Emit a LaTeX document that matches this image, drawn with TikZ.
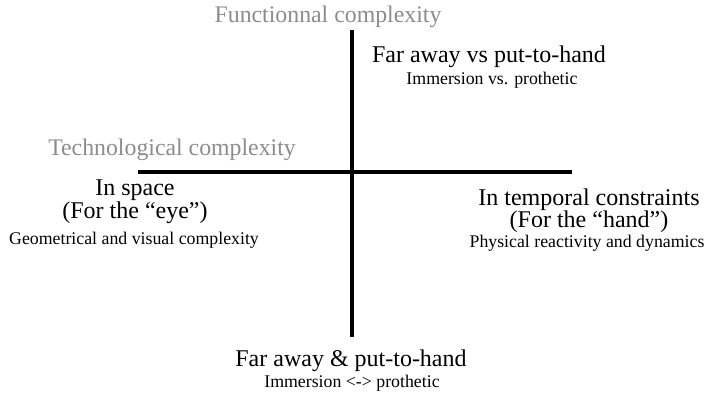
\documentclass[tikz,border=0pt]{standalone}
\usepackage{fontspec}
\setmainfont{Liberation Serif}
\begin{document}
\begin{tikzpicture}[x=1pt,y=-1pt,
  axis/.style={line width=3.5pt,black},
  big/.style={font=\fontsize{24}{26}\selectfont,inner sep=0pt,anchor=center},
  small/.style={font=\fontsize{17.8}{19}\selectfont,inner sep=0pt,anchor=center},
  grey/.style={font=\fontsize{23.8}{25}\selectfont,inner sep=0pt,anchor=center,text=black!45}]
\useasboundingbox (0,0) rectangle (704,399);
\coordinate (vt) at (352,30);
\coordinate (vb) at (352,337);
\coordinate (hl) at (138,172);
\coordinate (hr) at (572,172);
\draw[axis] (vt) -- (vb);
\draw[axis] (hl) -- (hr);
\node[grey] (fc) at (328,17) {Functionnal complexity};
\node[grey] (tc) at (172,150) {Technological complexity};
\node[big] (n1) at (489,57) {Far away vs put-to-hand};
\node[small] (n1s) at (492,80) {Immersion vs. prothetic};
\node[big] (w1) at (135,190) {In space};
\node[big] (w2) at (135,213) {(For the “eye”)};
\node[small] (w3) at (134,240) {Geometrical and visual complexity};
\node[big] (e1) at (589,200) {In temporal constraints};
\node[big] (e2) at (589,222) {(For the “hand”)};
\node[small] (e3) at (587,243) {Physical reactivity and dynamics};
\node[big] (s1) at (351,361) {Far away \& put-to-hand};
\node[small] (s2) at (352,383) {Immersion <-> prothetic};
\end{tikzpicture}
\end{document}
